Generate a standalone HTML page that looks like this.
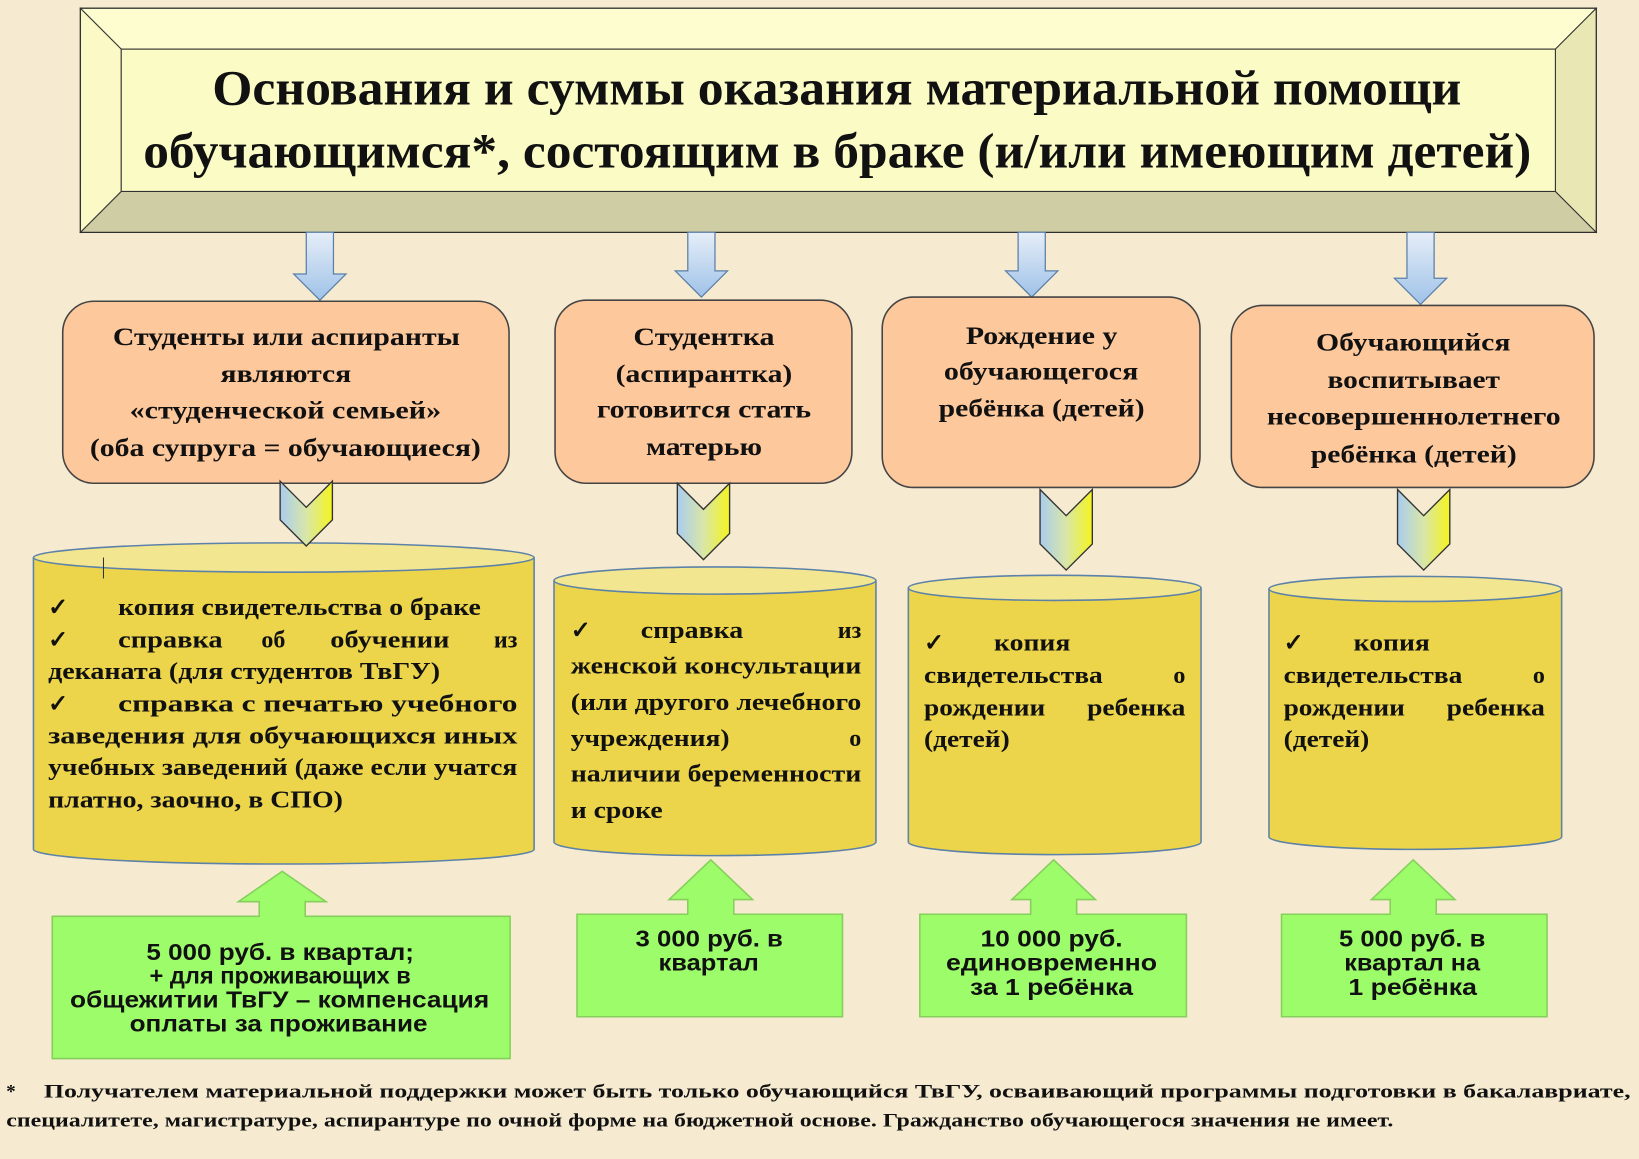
<!DOCTYPE html>
<html><head><meta charset="utf-8">
<style>
html,body{margin:0;padding:0;background:#f6ebd1;}
svg{display:block;}
.s{font-family:"Liberation Serif","DejaVu Serif",serif;font-weight:bold;fill:#111;}
.g{font-family:"Liberation Sans","DejaVu Sans",sans-serif;font-weight:bold;fill:#111;}
</style></head>
<body>
<svg width="1639" height="1159" viewBox="0 0 1568 1108" preserveAspectRatio="none" xmlns="http://www.w3.org/2000/svg">
<defs>
<linearGradient id="bv" x1="0" x2="0" y1="0" y2="1">
<stop offset="0" stop-color="#e6eef8"/><stop offset="1" stop-color="#9fc2e8"/>
</linearGradient>
<linearGradient id="ch" x1="0" x2="1" y1="0" y2="0">
<stop offset="0" stop-color="#a9cdee"/><stop offset="0.5" stop-color="#d9e6a8"/><stop offset="1" stop-color="#f4f41e"/>
</linearGradient>
</defs>
<rect width="1568" height="1108" fill="#f6ebd1"/>

<rect x="77" y="8" width="1450" height="214" fill="#fbfac3" stroke="#222" stroke-width="1.5"/>
<polygon points="77,8 1527,8 1488,47 116,47" fill="#fdfdd0" stroke="#333" stroke-width="1"/>
<polygon points="77,222 1527,222 1488,183 116,183" fill="#cfcda3" stroke="#333" stroke-width="1"/>
<polygon points="77,8 116,47 116,183 77,222" fill="#fbfac6" stroke="#333" stroke-width="1"/>
<polygon points="1527,8 1488,47 1488,183 1527,222" fill="#e9e8b4" stroke="#333" stroke-width="1"/>
<rect x="116" y="47" width="1372" height="136" fill="#fbfbc5" stroke="#333" stroke-width="1"/>
<text class="s" x="203" y="100" font-size="48" textLength="1195" lengthAdjust="spacingAndGlyphs">Основания и суммы оказания материальной помощи</text>
<text class="s" x="137" y="160" font-size="48" textLength="1328" lengthAdjust="spacingAndGlyphs">обучающимся*, состоящим в браке (и/или имеющим детей)</text>

<g stroke="#5a7fa8" stroke-width="1.2">
<polygon points="293,222 319,222 319,262 331,262 306,287 281,262 293,262" fill="url(#bv)"/>
<polygon points="658,222 684,222 684,259 696,259 671,284 646,259 658,259" fill="url(#bv)"/>
<polygon points="974,222 1000,222 1000,259 1012,259 987,284 962,259 974,259" fill="url(#bv)"/>
<polygon points="1346,222 1372,222 1372,266 1384,266 1359,291 1334,266 1346,266" fill="url(#bv)"/>
</g>

<g fill="#fdc89c" stroke="#444" stroke-width="1.5">
<rect x="60" y="288" width="427" height="174" rx="30"/>
<rect x="531" y="287" width="284" height="175" rx="30"/>
<rect x="844" y="284" width="304" height="182" rx="30"/>
<rect x="1178" y="292" width="347" height="174" rx="30"/>
</g>
<g class="s" font-size="24">
<text x="108" y="330" textLength="332" lengthAdjust="spacingAndGlyphs">Студенты или аспиранты</text>
<text x="211" y="365" textLength="125" lengthAdjust="spacingAndGlyphs">являются</text>
<text x="124" y="400" textLength="298" lengthAdjust="spacingAndGlyphs">«студенческой семьей»</text>
<text x="86" y="436" textLength="374" lengthAdjust="spacingAndGlyphs">(оба супруга = обучающиеся)</text>
<text x="606" y="330" textLength="135" lengthAdjust="spacingAndGlyphs">Студентка</text>
<text x="589" y="365" textLength="169" lengthAdjust="spacingAndGlyphs">(аспирантка)</text>
<text x="571" y="399" textLength="205" lengthAdjust="spacingAndGlyphs">готовится стать</text>
<text x="618" y="435" textLength="111" lengthAdjust="spacingAndGlyphs">матерью</text>
<text x="924" y="329" textLength="145" lengthAdjust="spacingAndGlyphs">Рождение у</text>
<text x="903" y="363" textLength="186" lengthAdjust="spacingAndGlyphs">обучающегося</text>
<text x="898" y="398" textLength="197" lengthAdjust="spacingAndGlyphs">ребёнка (детей)</text>
<text x="1259" y="335" textLength="186" lengthAdjust="spacingAndGlyphs">Обучающийся</text>
<text x="1270" y="371" textLength="165" lengthAdjust="spacingAndGlyphs">воспитывает</text>
<text x="1212" y="406" textLength="281" lengthAdjust="spacingAndGlyphs">несовершеннолетнего</text>
<text x="1254" y="442" textLength="197" lengthAdjust="spacingAndGlyphs">ребёнка (детей)</text>
</g>

<g stroke="#5d82a8" stroke-width="1.5">
<path d="M32,533 L32,812 A239.5,14 0 0 0 511,812 L511,533" fill="#ecd54a"/>
<ellipse cx="271.5" cy="533" rx="239.5" ry="14" fill="#f2e690"/>
<path d="M530,555 L530,805 A154,13 0 0 0 838,805 L838,555" fill="#ecd54a"/>
<ellipse cx="684" cy="555" rx="154" ry="13" fill="#f2e690"/>
<path d="M869,562 L869,805 A140,12 0 0 0 1149,805 L1149,562" fill="#ecd54a"/>
<ellipse cx="1009" cy="562" rx="140" ry="12" fill="#f2e690"/>
<path d="M1214,563 L1214,800 A140,12 0 0 0 1494,800 L1494,563" fill="#ecd54a"/>
<ellipse cx="1354" cy="563" rx="140" ry="12" fill="#f2e690"/>
</g>

<g fill="url(#ch)" stroke="#333" stroke-width="1.3">
<polygon points="268,460 293,485 318,460 318,497 293,522 268,497"/>
<polygon points="648,462 673,487 698,462 698,510 673,535 648,510"/>
<polygon points="995,468 1020,493 1045,468 1045,520 1020,545 995,520"/>
<polygon points="1337,468 1362,493 1387,468 1387,520 1362,545 1337,520"/>
</g>
<line x1="99" y1="533" x2="99" y2="553" stroke="#333" stroke-width="1"/>

<g class="s" font-size="23">
<text x="46" y="588">✓</text><text x="113" y="588" textLength="347" lengthAdjust="spacingAndGlyphs">копия свидетельства о браке</text>
<text x="46" y="619">✓</text><text x="113" y="619" textLength="100" lengthAdjust="spacingAndGlyphs">справка</text><text x="250" y="619">об</text><text x="316" y="619" textLength="114" lengthAdjust="spacingAndGlyphs">обучении</text><text x="495" y="619" text-anchor="end">из</text>
<text x="46" y="649" textLength="375" lengthAdjust="spacingAndGlyphs">деканата (для студентов ТвГУ)</text>
<text x="46" y="680">✓</text><text x="113" y="680" textLength="382" lengthAdjust="spacingAndGlyphs">справка с печатью учебного</text>
<text x="46" y="711" textLength="449" lengthAdjust="spacingAndGlyphs">заведения для обучающихся иных</text>
<text x="46" y="741" textLength="449" lengthAdjust="spacingAndGlyphs">учебных заведений (даже если учатся</text>
<text x="46" y="772" textLength="282" lengthAdjust="spacingAndGlyphs">платно, заочно, в СПО)</text>

<text x="546" y="610">✓</text><text x="613" y="610" textLength="98" lengthAdjust="spacingAndGlyphs">справка</text><text x="824" y="610" text-anchor="end">из</text>
<text x="546" y="644" textLength="278" lengthAdjust="spacingAndGlyphs">женской консультации</text>
<text x="546" y="679" textLength="278" lengthAdjust="spacingAndGlyphs">(или другого лечебного</text>
<text x="546" y="713" textLength="152" lengthAdjust="spacingAndGlyphs">учреждения)</text><text x="824" y="713" text-anchor="end">о</text>
<text x="546" y="747" textLength="278" lengthAdjust="spacingAndGlyphs">наличии беременности</text>
<text x="546" y="782" textLength="88" lengthAdjust="spacingAndGlyphs">и сроке</text>

<text x="884" y="622">✓</text><text x="951" y="622" textLength="73" lengthAdjust="spacingAndGlyphs">копия</text>
<text x="884" y="653" textLength="171" lengthAdjust="spacingAndGlyphs">свидетельства</text><text x="1134" y="653" text-anchor="end">о</text>
<text x="884" y="684" textLength="116" lengthAdjust="spacingAndGlyphs">рождении</text><text x="1040" y="684" textLength="94" lengthAdjust="spacingAndGlyphs">ребенка</text>
<text x="884" y="714" textLength="82" lengthAdjust="spacingAndGlyphs">(детей)</text>

<text x="1228" y="622">✓</text><text x="1295" y="622" textLength="73" lengthAdjust="spacingAndGlyphs">копия</text>
<text x="1228" y="653" textLength="171" lengthAdjust="spacingAndGlyphs">свидетельства</text><text x="1478" y="653" text-anchor="end">о</text>
<text x="1228" y="684" textLength="116" lengthAdjust="spacingAndGlyphs">рождении</text><text x="1384" y="684" textLength="94" lengthAdjust="spacingAndGlyphs">ребенка</text>
<text x="1228" y="714" textLength="82" lengthAdjust="spacingAndGlyphs">(детей)</text>
</g>

<g fill="#9cfc6a" stroke="#86cf5c" stroke-width="1.5">
<polygon points="50,876 248,876 248,862 228,862 270,833 312,862 292,862 292,876 488,876 488,1012 50,1012"/>
<polygon points="552,874 658,874 658,860 640,860 680,822 720,860 702,860 702,874 806,874 806,972 552,972"/>
<polygon points="880,874 986,874 986,860 968,860 1008,822 1048,860 1030,860 1030,874 1135,874 1135,972 880,972"/>
<polygon points="1226,874 1330,874 1330,860 1312,860 1352,822 1392,860 1374,860 1374,874 1480,874 1480,972 1226,972"/>
</g>
<g class="g" font-size="22">
<text x="140" y="918" textLength="256" lengthAdjust="spacingAndGlyphs">5 000 руб. в квартал;</text>
<text x="143" y="940" textLength="250" lengthAdjust="spacingAndGlyphs">+ для проживающих в</text>
<text x="67" y="963" textLength="401" lengthAdjust="spacingAndGlyphs">общежитии ТвГУ – компенсация</text>
<text x="124" y="986" textLength="285" lengthAdjust="spacingAndGlyphs">оплаты за проживание</text>
<text x="608" y="905" textLength="141" lengthAdjust="spacingAndGlyphs">3 000 руб. в</text>
<text x="630" y="928" textLength="96" lengthAdjust="spacingAndGlyphs">квартал</text>
<text x="938" y="905" textLength="136" lengthAdjust="spacingAndGlyphs">10 000 руб.</text>
<text x="905" y="928" textLength="202" lengthAdjust="spacingAndGlyphs">единовременно</text>
<text x="928" y="951" textLength="156" lengthAdjust="spacingAndGlyphs">за 1 ребёнка</text>
<text x="1281" y="905" textLength="140" lengthAdjust="spacingAndGlyphs">5 000 руб. в</text>
<text x="1286" y="928" textLength="130" lengthAdjust="spacingAndGlyphs">квартал на</text>
<text x="1290" y="951" textLength="123" lengthAdjust="spacingAndGlyphs">1 ребёнка</text>
</g>

<g class="s" font-size="18">
<text x="6" y="1049">*</text>
<text x="42" y="1049" textLength="1518" lengthAdjust="spacingAndGlyphs">Получателем материальной поддержки может быть только обучающийся ТвГУ, осваивающий программы подготовки в бакалавриате,</text>
<text x="6" y="1077" textLength="1327" lengthAdjust="spacingAndGlyphs">специалитете, магистратуре, аспирантуре по очной форме на бюджетной основе. Гражданство обучающегося значения не имеет.</text>
</g>
</svg>
</body></html>
